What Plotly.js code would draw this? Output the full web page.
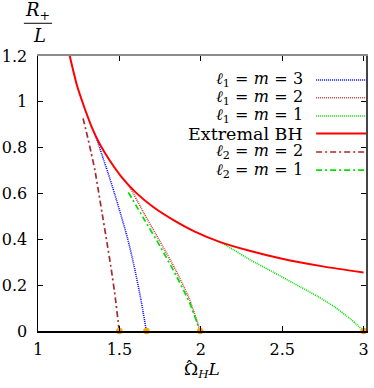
<!DOCTYPE html>
<html>
<head>
<meta charset="utf-8">
<script src="https://cdn.plot.ly/plotly-3.0.1.min.js"></script>
<style>html,body{margin:0;padding:0;background:#fff;}#chart{width:374px;height:388px;}</style>
</head>
<body>
<div id="chart"></div>
<script>
// ---- data ----
const extremalX = [1.195, 1.24, 1.28, 1.33, 1.38, 1.44, 1.51, 1.60, 1.71, 1.83, 1.96, 2.12, 2.30, 2.50, 2.75, 3.0];
const extremalY = [1.2, 1.07, 0.985, 0.89, 0.815, 0.745, 0.675, 0.605, 0.54, 0.485, 0.435, 0.388, 0.350, 0.315, 0.282, 0.255];

const l1m3X = [1.35, 1.39, 1.43, 1.47, 1.51, 1.55, 1.59, 1.63, 1.666];
const l1m3Y = [0.86, 0.775, 0.69, 0.60, 0.505, 0.405, 0.285, 0.145, 0];

const l1m2X = [1.565, 1.65, 1.75, 1.85, 1.93, 1.996];
const l1m2Y = [0.628, 0.515, 0.39, 0.26, 0.14, 0];

const l1m1X = [2.11, 2.2, 2.3, 2.45, 2.61, 2.72, 2.82, 2.92, 3.0];
const l1m1Y = [0.391, 0.355, 0.312, 0.255, 0.193, 0.150, 0.106, 0.052, 0];

const l2m2X = [1.277, 1.30, 1.325, 1.35, 1.375, 1.40, 1.425, 1.45, 1.475, 1.499];
const l2m2Y = [0.928, 0.86, 0.783, 0.70, 0.595, 0.487, 0.38, 0.27, 0.145, 0];

const l2m1X = [1.555, 1.65, 1.75, 1.85, 1.93, 1.996];
const l2m1Y = [0.605, 0.49, 0.37, 0.24, 0.125, 0];

const endX = [1.5, 1.666, 1.996, 3.0];
const endY = [0, 0, 0, 0];

const xTicks = [1, 1.5, 2, 2.5, 3];
const yTicks = [0, 0.2, 0.4, 0.6, 0.8, 1, 1.2];

const S = '\u2004';
const seriesNames = ['<i>ℓ</i><sub>1</sub>' + S + '=' + S + '<i>m</i>' + S + '=' + S + '3',
                     '<i>ℓ</i><sub>1</sub>' + S + '=' + S + '<i>m</i>' + S + '=' + S + '2',
                     '<i>ℓ</i><sub>1</sub>' + S + '=' + S + '<i>m</i>' + S + '=' + S + '1',
                     'Extremal BH',
                     '<i>ℓ</i><sub>2</sub>' + S + '=' + S + '<i>m</i>' + S + '=' + S + '2',
                     '<i>ℓ</i><sub>2</sub>' + S + '=' + S + '<i>m</i>' + S + '=' + S + '1'];

// ---- styles ----
const FONT = 'DejaVu Serif';
const styles = [
  {color: '#0000ff', width: 1.6, dash: '1px,1px'},
  {color: '#c43c3c', width: 1.6, dash: '1px,1px'},
  {color: '#00e000', width: 1.6, dash: '1px,1px'},
  {color: '#ff0000', width: 2, dash: 'solid'},
  {color: '#a52a2a', width: 1.7, dash: '6px,3px,2px,3px'},
  {color: '#00e000', width: 1.7, dash: '6px,3px,2px,3px'}
];
const seriesX = [l1m3X, l1m2X, l1m1X, extremalX, l2m2X, l2m1X];
const seriesY = [l1m3Y, l1m2Y, l1m1Y, extremalY, l2m2Y, l2m1Y];

const traces = [];
[4, 0, 1, 5, 2, 3].forEach(i => {
  traces.push({
    x: seriesX[i], y: seriesY[i], type: 'scatter', mode: 'lines',
    name: seriesNames[i], showlegend: false, hoverinfo: 'skip',
    line: {color: styles[i].color, width: styles[i].width, dash: styles[i].dash, shape: 'spline', smoothing: 0.6}
  });
});
traces.push({
  x: endX, y: endY, type: 'scatter', mode: 'markers', showlegend: false,
  marker: {color: '#ffa500', size: 6.5}, cliponaxis: false, hoverinfo: 'skip'
});
traces.push({x: [null], y: [null], xaxis: 'x2', yaxis: 'y2', type: 'scatter', mode: 'markers', showlegend: false, hoverinfo: 'skip'});

// ---- legend (manual, text left of the sample line) ----
const legendY = [0.913, 0.848, 0.782, 0.718, 0.651, 0.585];
const annotations = [];
const shapes = [];
seriesNames.forEach((nm, i) => {
  annotations.push({xref: 'paper', yref: 'paper', x: 0.814, y: legendY[i], xanchor: 'right', yanchor: 'middle',
    text: nm, showarrow: false, font: {family: FONT, size: i === 3 ? 17.5 : 16, color: '#000'}});
  shapes.push({type: 'line', xref: 'paper', yref: 'paper', x0: 0.848, x1: 1.0, y0: legendY[i], y1: legendY[i],
    line: {color: styles[i].color, width: styles[i].width, dash: styles[i].dash}});
});
// y title as a fraction
annotations.push({xref: 'paper', yref: 'paper', x: 0, y: 1, xshift: -1, yshift: 45, xanchor: 'center', yanchor: 'middle',
  text: '<i>R</i><sub>+</sub>', showarrow: false, font: {family: FONT, size: 18, color: '#000'}});
annotations.push({xref: 'paper', yref: 'paper', x: 0, y: 1, xshift: 1.5, yshift: 21, xanchor: 'center', yanchor: 'middle',
  text: '<i>L</i>', showarrow: false, font: {family: FONT, size: 18, color: '#000'}});
shapes.push({type: 'line', xref: 'paper', yref: 'paper', x0: -0.043, x1: 0.043, y0: 1.119, y1: 1.119,
  line: {color: '#000', width: 1}});
// hat over Omega in the x title
annotations.push({xref: 'paper', yref: 'paper', x: 0.4625, y: 0, yshift: -36, xanchor: 'center', yanchor: 'middle',
  text: 'ˆ', showarrow: false, font: {family: FONT, size: 17, color: '#000'}});

const axisCommon = {
  showgrid: false, zeroline: false, ticks: 'inside', ticklen: 5, tickwidth: 1, tickcolor: '#000',
  tickfont: {family: FONT, size: 16, color: '#000'}, showline: true, linecolor: '#000', linewidth: 1.5
};

const layout = {
  width: 374, height: 388,
  margin: {l: 38, r: 8, t: 56, b: 57},
  paper_bgcolor: '#fff', plot_bgcolor: '#fff',
  font: {family: FONT, size: 16, color: '#000'},
  xaxis: Object.assign({}, axisCommon, {
    range: [1, 3.015], tickvals: xTicks, ticktext: xTicks.map(String), ticklabelstandoff: 3,
    title: {text: 'Ω<sub><i>H</i></sub><i>L</i>', font: {family: FONT, size: 17, color: '#000'}, standoff: 2}
  }),
  yaxis: Object.assign({}, axisCommon, {
    range: [0, 1.2], tickvals: yTicks, ticktext: yTicks.map(String), ticklabelstandoff: 6
  }),
  xaxis2: {overlaying: 'x', side: 'top', range: [1, 3.015], tickvals: xTicks, showticklabels: false,
    ticks: 'inside', ticklen: 5, tickcolor: '#000', showgrid: false, zeroline: false,
    showline: true, linecolor: '#8c8c8c', linewidth: 2},
  yaxis2: {overlaying: 'y', side: 'right', range: [0, 1.2], tickvals: yTicks, showticklabels: false,
    ticks: 'inside', ticklen: 5, tickcolor: '#000', showgrid: false, zeroline: false,
    showline: true, linecolor: '#444', linewidth: 1.5},
  annotations: annotations,
  shapes: shapes,
  showlegend: false
};

Plotly.newPlot('chart', traces, layout, {displayModeBar: false, staticPlot: true});
</script>
</body>
</html>
